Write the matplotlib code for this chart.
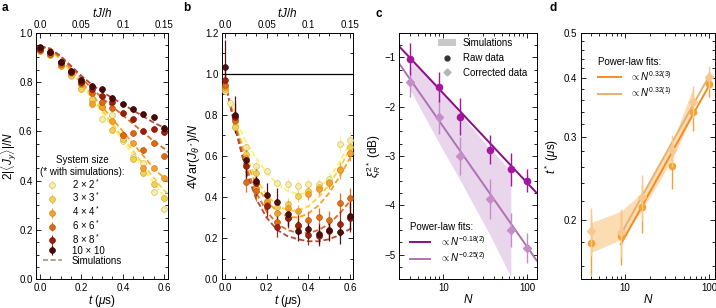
import matplotlib
matplotlib.use("Agg")
import matplotlib.pyplot as plt
from matplotlib.ticker import MultipleLocator, FixedLocator, NullFormatter, FixedFormatter
from matplotlib.lines import Line2D
from matplotlib.patches import Patch

plt.rcParams["font.family"] = ["Liberation Sans", "DejaVu Sans"]
plt.rcParams["font.size"] = 7
plt.rcParams["axes.labelsize"] = 8.5
plt.rcParams["mathtext.fontset"] = "custom"
plt.rcParams["mathtext.rm"] = "Liberation Sans"
plt.rcParams["mathtext.it"] = "Liberation Sans:italic"
plt.rcParams["mathtext.bf"] = "Liberation Sans:bold"
plt.rcParams["axes.linewidth"] = 0.7

# ---- data ------------------------------------------------------------
size_labels = [r"2 × 2$^*$", r"3 × 3$^*$", r"4 × 4$^*$", r"6 × 6$^*$", r"8 × 8$^*$", "10 × 10"]
size_colors = ["#f6eea6", "#f3cf55", "#f4a02e", "#dd6a12", "#9c1d0c", "#4a0909"]
size_edges = ["#cfc068", "#d2aa2c", "#d98418", "#b9520a", "#7a1206", "#300404"]
sim_colors = ["#fff26a", "#ffd23c", "#ffa01e", "#e06a28", "#b24a38"]

t_pts = [0.0, 0.05, 0.1, 0.15, 0.2, 0.25, 0.3, 0.35, 0.4, 0.45, 0.5, 0.55, 0.6]
t_sim = [0.0, 0.05, 0.1, 0.15, 0.2, 0.25, 0.3, 0.35, 0.4, 0.45, 0.5, 0.55, 0.6, 0.62]

# panel a: 2|<J_y>|/N
a_2x2 = [0.925, 0.91, 0.865, 0.825, 0.775, 0.725, 0.65, 0.665, 0.56, 0.497, 0.47, 0.355, 0.285]
a_3x3 = [0.925, 0.91, 0.865, 0.83, 0.77, 0.73, 0.70, 0.605, 0.568, 0.486, 0.43, 0.386, 0.328]
a_4x4 = [0.93, 0.915, 0.87, 0.835, 0.79, 0.71, 0.70, 0.643, 0.585, 0.554, 0.45, 0.45, 0.41]
a_6x6 = [0.93, 0.915, 0.875, 0.84, 0.795, 0.755, 0.72, 0.693, 0.585, 0.592, 0.524, 0.551, 0.50]
a_8x8 = [0.935, 0.92, 0.88, 0.84, 0.80, 0.77, 0.745, 0.72, 0.673, 0.649, 0.601, 0.608, 0.599]
a_10x10 = [0.94, 0.92, 0.88, 0.845, 0.81, 0.785, 0.77, 0.736, 0.711, 0.689, 0.669, 0.657, 0.615]
a_err = [0.012, 0.012, 0.01, 0.01, 0.01, 0.01]

a_sim_2x2 = [0.945, 0.93, 0.89, 0.84, 0.79, 0.735, 0.675, 0.62, 0.56, 0.505, 0.45, 0.39, 0.335, 0.32]
a_sim_3x3 = [0.945, 0.93, 0.89, 0.845, 0.795, 0.74, 0.685, 0.63, 0.575, 0.52, 0.465, 0.41, 0.36, 0.345]
a_sim_4x4 = [0.945, 0.93, 0.895, 0.85, 0.80, 0.75, 0.70, 0.65, 0.60, 0.55, 0.50, 0.45, 0.41, 0.395]
a_sim_6x6 = [0.945, 0.935, 0.90, 0.86, 0.815, 0.775, 0.735, 0.70, 0.665, 0.63, 0.595, 0.56, 0.53, 0.515]
a_sim_8x8 = [0.945, 0.935, 0.905, 0.865, 0.825, 0.79, 0.76, 0.735, 0.71, 0.685, 0.66, 0.635, 0.615, 0.605]

# panel b: 4Var(J_theta*)/N
t_b_2x2 = [0.0, 0.025, 0.05, 0.1, 0.15, 0.2, 0.25, 0.3, 0.35, 0.4, 0.45, 0.5, 0.55, 0.6]
b_2x2 = [0.915, 0.86, 0.74, 0.645, 0.55, 0.525, 0.47, 0.465, 0.455, 0.465, 0.465, 0.49, 0.66, 0.68]
b_3x3 = [0.925, 0.74, 0.61, 0.515, 0.38, 0.35, 0.365, 0.405, 0.43, 0.45, 0.475, 0.535, 0.645]
b_4x4 = [0.935, 0.77, 0.59, 0.445, 0.375, 0.325, 0.345, 0.33, 0.415, 0.44, 0.47, 0.53, 0.615]
b_6x6 = [0.945, 0.775, 0.475, 0.43, 0.36, 0.28, 0.30, 0.26, 0.29, 0.305, 0.29, 0.37, 0.395]
b_8x8 = [0.97, 0.79, 0.55, 0.47, 0.355, 0.255, 0.30, 0.265, 0.215, 0.21, 0.235, 0.27, 0.30]
b_10x10 = [1.035, 0.80, 0.58, 0.48, 0.41, 0.375, 0.32, 0.235, 0.245, 0.22, 0.24, 0.23, 0.31]
b_err_2x2 = [0.02, 0.02, 0.02, 0.03, 0.03, 0.02, 0.02, 0.03, 0.03, 0.03, 0.03, 0.03, 0.04, 0.04]
b_err_3x3 = [0.02, 0.03, 0.03, 0.03, 0.03, 0.03, 0.03, 0.03, 0.03, 0.03, 0.03, 0.03, 0.04]
b_err_4x4 = [0.02, 0.03, 0.04, 0.04, 0.03, 0.03, 0.03, 0.03, 0.03, 0.03, 0.03, 0.04, 0.04]
b_err_6x6 = [0.03, 0.05, 0.05, 0.05, 0.04, 0.04, 0.04, 0.04, 0.04, 0.04, 0.04, 0.05, 0.05]
b_err_8x8 = [0.05, 0.07, 0.07, 0.06, 0.05, 0.05, 0.05, 0.05, 0.05, 0.05, 0.05, 0.06, 0.07]
b_err_10x10 = [0.13, 0.09, 0.08, 0.07, 0.06, 0.07, 0.06, 0.05, 0.05, 0.05, 0.05, 0.06, 0.07]

b_sim_2x2 = [0.96, 0.78, 0.67, 0.59, 0.52, 0.465, 0.43, 0.415, 0.42, 0.445, 0.49, 0.57, 0.665, 0.70]
b_sim_3x3 = [0.96, 0.76, 0.60, 0.49, 0.41, 0.36, 0.335, 0.335, 0.355, 0.40, 0.46, 0.54, 0.635, 0.67]
b_sim_4x4 = [0.96, 0.75, 0.58, 0.46, 0.38, 0.33, 0.305, 0.30, 0.32, 0.36, 0.42, 0.50, 0.59, 0.625]
b_sim_6x6 = [0.96, 0.74, 0.55, 0.42, 0.33, 0.27, 0.24, 0.225, 0.225, 0.24, 0.27, 0.32, 0.38, 0.405]
b_sim_8x8 = [0.96, 0.73, 0.53, 0.39, 0.30, 0.24, 0.21, 0.195, 0.185, 0.185, 0.195, 0.215, 0.245, 0.26]

# panel c: squeezing xi_R^2* (dB) vs N
N_vals = [4, 9, 16, 36, 64, 100]
c_raw = [-1.03, -1.6, -2.2, -2.87, -3.27, -3.5]
c_raw_err = [0.32, 0.3, 0.38, 0.3, 0.33, 0.24]
c_corr = [-1.5, -2.2, -3.0, -3.87, -4.5, -4.87]
c_corr_err = [0.3, 0.35, 0.38, 0.4, 0.35, 0.3]
c_fit_N = [3, 130]
c_fit_raw = [-0.78, -3.75]
c_fit_corr = [-1.13, -5.12]
c_sim_N = [4, 9, 16, 36, 64]
c_sim_hi = [-1.0, -1.6, -2.15, -2.85, -3.3]
c_sim_lo = [-1.65, -2.75, -3.5, -4.6, -5.45]

# panel d: optimal time t* vs N
d_raw = [0.179, 0.185, 0.213, 0.261, 0.34, 0.39]
d_raw_err = [0.026, 0.024, 0.025, 0.028, 0.03, 0.025]
d_corr = [0.19, 0.189, 0.224, 0.282, 0.357, 0.402]
d_corr_err = [0.022, 0.022, 0.025, 0.022, 0.028, 0.022]
d_fit_N = [9, 100]
d_fit_raw = [0.178, 0.386]
d_fit_corr = [0.187, 0.404]
d_sim_N = [4, 9, 16, 36, 64]
d_sim_hi = [0.198, 0.209, 0.229, 0.29, 0.38]
d_sim_lo = [0.171, 0.182, 0.21, 0.268, 0.335]

# ---- figure ----------------------------------------------------------
W, H = 716, 308
fig = plt.figure(figsize=(W / 100, H / 100), dpi=100)


def px_axes(x0, x1, y0=32.7, y1=279.3):
    return fig.add_axes([x0 / W, 1 - y1 / H, (x1 - x0) / W, (y1 - y0) / H])


def style(ax):
    ax.tick_params(which="both", direction="in", top=True, right=True, width=0.6,
                   labelsize=7, pad=2.5)
    ax.tick_params(which="major", length=3.5)
    ax.tick_params(which="minor", length=2)


def top_axis(ax):
    sec = ax.secondary_xaxis("top", functions=(lambda t: t * 0.25, lambda x: x / 0.25))
    sec.set_xticks([0.0, 0.05, 0.1, 0.15])
    sec.set_xticklabels(["0.0", "0.05", "0.1", "0.15"])
    sec.xaxis.set_minor_locator(MultipleLocator(0.0125))
    sec.tick_params(which="both", direction="in", width=0.6, labelsize=7, pad=2)
    sec.tick_params(which="major", length=3.5)
    sec.tick_params(which="minor", length=2)
    sec.set_xlabel(r"$tJ/h$", labelpad=2)
    ax.tick_params(axis="x", which="both", top=False)
    return sec


# panel a
ax_a = px_axes(36, 168.3)
a_series = [a_2x2, a_3x3, a_4x4, a_6x6, a_8x8, a_10x10]
a_sims = [a_sim_2x2, a_sim_3x3, a_sim_4x4, a_sim_6x6, a_sim_8x8]
for sim, col in zip(a_sims, sim_colors):
    ax_a.plot(t_sim, sim, ls=(0, (3, 1.6)), color=col, lw=1.3, zorder=2)
handles = []
for vals, err, col, ec, lab in zip(a_series, a_err, size_colors, size_edges, size_labels):
    h = ax_a.errorbar(t_pts, vals, yerr=err, fmt="o", ms=4.2, mfc=col, mec=ec, mew=0.5,
                      ecolor=col, elinewidth=0.8, capsize=0, label=lab, zorder=3)
    handles.append(h)
handles.append(Line2D([], [], ls=(0, (3, 1.6)), color="#a89088", lw=1.2))
leg_a = ax_a.legend(handles, size_labels + ["Simulations"], loc="lower left",
                    bbox_to_anchor=(0.03, 0.055), frameon=False, fontsize=7,
                    title="System size\n(* with simulations):", title_fontsize=7,
                    handlelength=2.0, handletextpad=1.0, labelspacing=0.0, borderpad=0,
                    borderaxespad=0)
leg_a.get_title().set_multialignment("center")
ax_a.set_xlim(-0.02, 0.62)
ax_a.set_ylim(0, 1.0)
ax_a.xaxis.set_major_locator(MultipleLocator(0.2))
ax_a.xaxis.set_minor_locator(MultipleLocator(0.05))
ax_a.yaxis.set_major_locator(MultipleLocator(0.2))
ax_a.yaxis.set_minor_locator(MultipleLocator(0.05))
style(ax_a)
top_axis(ax_a)
ax_a.set_xlabel(r"$t$ ($\mu$s)", labelpad=0)
ax_a.set_ylabel(r"$2|\langle J_y\rangle|/N$", fontsize=8.5)
ax_a.yaxis.set_label_coords(-0.125, 0.5)

# panel b
ax_b = px_axes(221.7, 353.3)
b_sims = [b_sim_2x2, b_sim_3x3, b_sim_4x4, b_sim_6x6, b_sim_8x8]
for sim, col in zip(b_sims, sim_colors):
    ax_b.plot(t_sim, sim, ls=(0, (3, 1.6)), color=col, lw=1.3, zorder=2)
ax_b.axhline(1.0, color="black", lw=0.9, zorder=1)
b_series = [(t_b_2x2, b_2x2, b_err_2x2), (t_pts, b_3x3, b_err_3x3), (t_pts, b_4x4, b_err_4x4),
            (t_pts, b_6x6, b_err_6x6), (t_pts, b_8x8, b_err_8x8), (t_pts, b_10x10, b_err_10x10)]
for (tt, vals, err), col, ec in zip(b_series, size_colors, size_edges):
    ax_b.errorbar(tt, vals, yerr=err, fmt="o", ms=4.2, mfc=col, mec=ec, mew=0.5,
                  ecolor=col, elinewidth=0.9, alpha=0.95, capsize=0, zorder=3)
ax_b.set_xlim(-0.016, 0.616)
ax_b.set_ylim(0, 1.2)
ax_b.xaxis.set_major_locator(MultipleLocator(0.2))
ax_b.xaxis.set_minor_locator(MultipleLocator(0.05))
ax_b.yaxis.set_major_locator(MultipleLocator(0.2))
ax_b.yaxis.set_minor_locator(MultipleLocator(0.1))
style(ax_b)
top_axis(ax_b)
ax_b.set_xlabel(r"$t$ ($\mu$s)", labelpad=0)
ax_b.set_ylabel(r"4Var($J_{\theta^*}$)/$N$", labelpad=2, fontsize=9)

# panel c
raw_c, corr_c, fit_raw_c, fit_corr_c, sim_c = "#a3169f", "#c68ec8", "#8a0c88", "#b071b4", "#e9d6ec"
ax_c = px_axes(399.3, 536.7)
ax_c.fill_between(c_sim_N, c_sim_lo, c_sim_hi, color=sim_c, lw=0, zorder=1)
ax_c.plot(c_fit_N, c_fit_raw, color=fit_raw_c, lw=1.4, zorder=2)
ax_c.plot(c_fit_N, c_fit_corr, color=fit_corr_c, lw=1.4, zorder=2)
ax_c.errorbar(N_vals, c_raw, yerr=c_raw_err, fmt="o", ms=4.5, color=raw_c,
              elinewidth=1.0, capsize=0, zorder=4)
ax_c.errorbar(N_vals, c_corr, yerr=c_corr_err, fmt="D", ms=4.0, color=corr_c,
              elinewidth=1.0, capsize=0, zorder=3)
ax_c.set_xscale("log")
ax_c.set_xlim(3, 130)
ax_c.set_ylim(-5.5, -0.5)
ax_c.xaxis.set_major_locator(FixedLocator([10, 100]))
ax_c.xaxis.set_major_formatter(FixedFormatter(["10", "100"]))
ax_c.xaxis.set_minor_locator(FixedLocator([3, 4, 5, 6, 7, 8, 9, 20, 30, 40, 50, 60, 70, 80, 90]))
ax_c.xaxis.set_minor_formatter(NullFormatter())
ax_c.yaxis.set_minor_locator(MultipleLocator(0.25))
ax_c.set_yticks([-5, -4, -3, -2, -1])
ax_c.set_yticklabels(["−5", "−4", "−3", "−2", "−1"])
style(ax_c)
ax_c.set_xlabel(r"$N$", labelpad=0)
ax_c.set_ylabel(r"$\xi_R^{2*}$ (dB)", labelpad=1)
leg1 = ax_c.legend([Patch(color="#c8c8c8", lw=0),
                    Line2D([], [], marker="o", ms=3.5, color="#333333", lw=0),
                    Line2D([], [], marker="D", ms=3.5, color="#b4b4b4", lw=0)],
                   ["Simulations", "Raw data", "Corrected data"], loc="upper right",
                   bbox_to_anchor=(0.93, 0.978), frameon=False, fontsize=7,
                   handlelength=1.85, handletextpad=0.7, labelspacing=0.5,
                   borderpad=0, borderaxespad=0)
ax_c.add_artist(leg1)
leg_c = ax_c.legend([Line2D([], [], color=fit_raw_c, lw=1.4), Line2D([], [], color=fit_corr_c, lw=1.4)],
                    [r"$\propto N^{-0.18(2)}$", r"$\propto N^{-0.25(2)}$"], loc="lower left",
                    bbox_to_anchor=(0.078, 0.062), title="Power-law fits:", title_fontsize=7,
                    frameon=False, fontsize=7, handlelength=2.1, handletextpad=1.0,
                    labelspacing=0.25, borderpad=0, borderaxespad=0)
leg_c._legend_box.align = "left"

# panel d
raw_d, corr_d, fit_raw_d, fit_corr_d, sim_d = "#f5a232", "#f7c98e", "#f78c1c", "#e6b273", "#fcdcb2"
ax_d = px_axes(580.7, 715)
ax_d.fill_between(d_sim_N, d_sim_lo, d_sim_hi, color=sim_d, lw=0, zorder=1)
ax_d.plot(d_fit_N, d_fit_raw, color=fit_raw_d, lw=1.4, zorder=2)
ax_d.plot(d_fit_N, d_fit_corr, color=fit_corr_d, lw=1.4, zorder=2)
ax_d.errorbar(N_vals, d_raw, yerr=d_raw_err, fmt="o", ms=4.5, color=raw_d,
              elinewidth=1.0, capsize=0, zorder=3)
ax_d.errorbar(N_vals, d_corr, yerr=d_corr_err, fmt="D", ms=4.0, color=corr_d,
              elinewidth=1.0, capsize=0, zorder=4)
ax_d.set_xscale("log")
ax_d.set_yscale("log")
ax_d.set_xlim(3, 118)
ax_d.set_ylim(0.15, 0.5)
ax_d.xaxis.set_major_locator(FixedLocator([10, 100]))
ax_d.xaxis.set_major_formatter(FixedFormatter(["10", "100"]))
ax_d.xaxis.set_minor_locator(FixedLocator([3, 4, 5, 6, 7, 8, 9, 20, 30, 40, 50, 60, 70, 80, 90]))
ax_d.xaxis.set_minor_formatter(NullFormatter())
ax_d.yaxis.set_major_locator(FixedLocator([0.2, 0.3, 0.4, 0.5]))
ax_d.yaxis.set_major_formatter(FixedFormatter(["0.2", "0.3", "0.4", "0.5"]))
ax_d.yaxis.set_minor_locator(FixedLocator([0.16, 0.18, 0.22, 0.24, 0.26, 0.28, 0.32, 0.34,
                                           0.36, 0.38, 0.42, 0.44, 0.46, 0.48]))
ax_d.yaxis.set_minor_formatter(NullFormatter())
style(ax_d)
ax_d.set_xlabel(r"$N$", labelpad=0)
ax_d.set_ylabel(r"$t^*$ ($\mu$s)", labelpad=2)
leg_d = ax_d.legend([Line2D([], [], color=fit_raw_d, lw=1.4), Line2D([], [], color=fit_corr_d, lw=1.4)],
                    [r"$\propto N^{0.32(3)}$", r"$\propto N^{0.32(1)}$"], loc="upper left",
                    bbox_to_anchor=(0.131, 0.903), title="Power-law fits:", title_fontsize=7,
                    frameon=False, fontsize=7, handlelength=2.3, handletextpad=1.0,
                    labelspacing=0.25, borderpad=0, borderaxespad=0)
leg_d._legend_box.align = "left"

for lab, x, y in [("a", 2, 11), ("b", 183, 11), ("c", 376, 17), ("d", 549, 11)]:
    fig.text(x / W, 1 - y / H, lab, fontsize=8.5, fontweight="bold", va="baseline")

fig.savefig("out.png", dpi=100)
